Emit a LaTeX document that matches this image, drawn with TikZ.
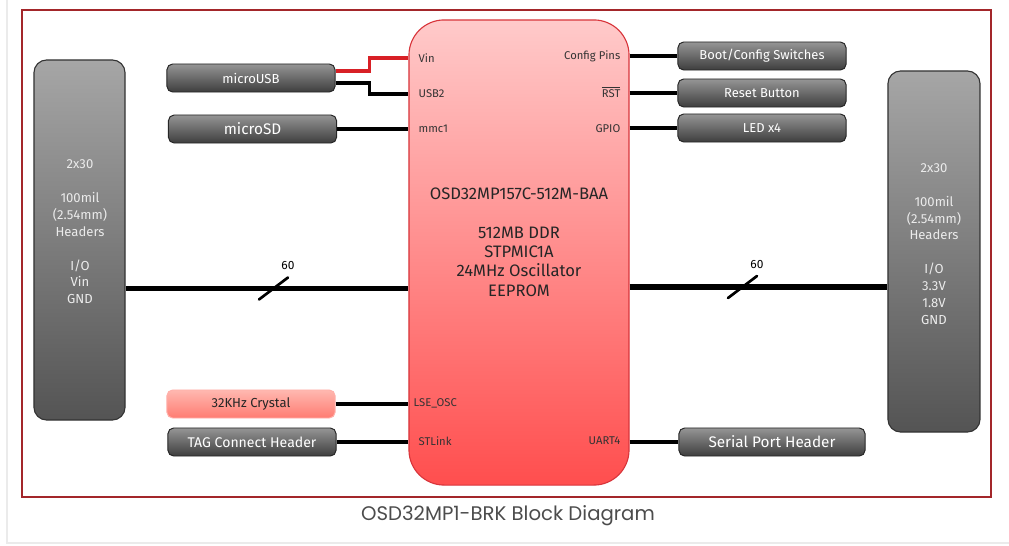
\documentclass[tikz,border=0pt]{standalone}
\usepackage{fontspec}
\setmainfont{Fira Sans}
\newfontfamily\capfont{Poppins}
\definecolor{framered}{HTML}{A3262A}
\definecolor{chipline}{HTML}{D8353B}
\definecolor{chiptop}{HTML}{FFCACA}
\definecolor{chipbot}{HTML}{FF4E4E}
\definecolor{wirered}{HTML}{D82026}
\definecolor{boxtop}{HTML}{959595}
\definecolor{boxbot}{HTML}{3E3E3E}
\definecolor{hdrtop}{HTML}{A6A6A6}
\definecolor{hdrbot}{HTML}{545454}
\definecolor{xtaltop}{HTML}{FFB8B0}
\definecolor{xtalbot}{HTML}{FF7C72}
\begin{document}
\begin{tikzpicture}[x=.025cm,y=-.025cm,line width=2.4pt,
   gbox/.style={draw=black!85,line width=.7pt,rounded corners=4pt,top color=boxtop,bottom color=boxbot,text=white,minimum width=4.2cm,minimum height=.7cm},
   hdr/.style={draw=black!80,line width=.8pt,rounded corners=9pt,top color=hdrtop,bottom color=hdrbot},
   hdrtxt/.style={text=white!92!black,align=center,font=\fontsize{9.3}{12}\selectfont},
   pin/.style={text=black!80,font=\fontsize{8}{9}\selectfont,inner sep=0pt},
   bus/.style={line width=3.8pt},
   slash/.style={line width=1.9pt,line cap=round}]

   \useasboundingbox (0,0) rectangle (1009,546);
   \draw[line width=1.2pt,black!8] (7,0) -- (7,543) -- (1009,543);
   \draw[line width=1.3pt,framered] (22,10) rectangle (991,497);
   \path (508,516) node[font=\capfont\fontsize{14}{16}\selectfont,text=black!70] (cap) {OSD32MP1-BRK Block Diagram};

     \path (519,252.5) node[draw=chipline,line width=.8pt,rounded corners=25pt,top color=chiptop,bottom color=chipbot,minimum width=5.5cm,minimum height=11.625cm] (chip) {};
     \path (519,242) node[align=center,text=black!85,font=\fontsize{11.8}{13.8}\selectfont] (chiptxt) {OSD32MP157C-512M-BAA\\[13.8pt]512MB DDR\\STPMIC1A\\24MHz Oscillator\\EEPROM};

     \path (79.5,240) node[hdr,minimum width=2.275cm,minimum height=9cm] (lhdr) {};
     \path (80,232) node[hdrtxt] (lhdrtxt) {2x30\\[12pt]100mil\\(2.54mm)\\Headers\\[12pt]I/O\\Vin\\GND};
     \path (934,251.5) node[hdr,minimum width=2.3cm,minimum height=9.025cm] (rhdr) {};
     \path (934,244) node[hdrtxt] (rhdrtxt) {2x30\\[12pt]100mil\\(2.54mm)\\Headers\\[12pt]I/O\\3.3V\\1.8V\\GND};

     \path (251,78) node[gbox,font=\fontsize{9.3}{10}\selectfont] (usb) {microUSB};
     \path (252.5,129) node[gbox,font=\fontsize{10.9}{12}\selectfont] (sd) {microSD};
     \path (251,404) node[gbox,draw=xtalbot!60,top color=xtaltop,bottom color=xtalbot,text=black!85,font=\fontsize{9.3}{10}\selectfont] (xtal) {32KHz Crystal};
     \path (252,442) node[gbox,font=\fontsize{10}{11}\selectfont] (tag) {TAG Connect Header};

     \path (762,56) node[gbox,font=\fontsize{9.2}{10}\selectfont] (boot) {Boot/Config Switches};
     \path (762,93) node[gbox,font=\fontsize{9.2}{10}\selectfont] (rstbtn) {Reset Button};
     \path (762,128) node[gbox,font=\fontsize{9.2}{10}\selectfont] (led) {LED x4};
     \path (772,442) node[gbox,minimum width=4.65cm,font=\fontsize{10.9}{12}\selectfont] (serial) {Serial Port Header};

     \path (417,58) node[pin,anchor=west] (vin) {Vin};
     \path (417,94) node[pin,anchor=west] (usbtwo) {USB2};
     \path (417,129) node[pin,anchor=west] (mmc) {mmc1};
     \path (412,403) node[pin,anchor=west] (lse) {LSE\_OSC};
     \path (417,441) node[pin,anchor=west] (stlink) {STLink};
     \path (622,56) node[pin,anchor=east] (cfg) {Config Pins};
     \path (622,92) node[pin,anchor=east] (rst) {$\overline{\hbox{RST}}$};
     \path (622,129) node[pin,anchor=east] (gpio) {GPIO};
     \path (622,441) node[pin,anchor=east] (uart) {UART4};

      \draw[wirered] ([yshift=5pt]usb.east) -- ++(34,0) |- (chip.west |- vin);
      \draw ([yshift=-3.6pt]usb.east) -- ++(34,0) |- (chip.west |- usbtwo);
      \draw (sd.east) -- (sd.east -| chip.west);
      \draw (xtal.east) -- (xtal.east -| chip.west);
      \draw (tag.east) -- (tag.east -| chip.west);
      \draw (chip.east |- boot) -- (boot.west);
      \draw (chip.east |- rstbtn) -- (rstbtn.west);
      \draw (chip.east |- led) -- (led.west);
      \draw (chip.east |- serial) -- (serial.west);

     \coordinate (busl) at (273,288.5);
     \coordinate (busr) at (742,287);
      \draw[bus] (busl -| lhdr.east) -- (busl -| chip.west);
      \draw[bus] (busr -| chip.east) -- (busr -| rhdr.west);
      \draw[slash] (busl) ++(-14,11) -- ++(29,-22) node[above=1pt,font=\fontsize{8.5}{9}\selectfont] (nl) {60};
      \draw[slash] (busr) ++(-14,11) -- ++(29,-22) node[above=1pt,font=\fontsize{8.5}{9}\selectfont] (nr) {60};

   \end{tikzpicture}
\end{document}
